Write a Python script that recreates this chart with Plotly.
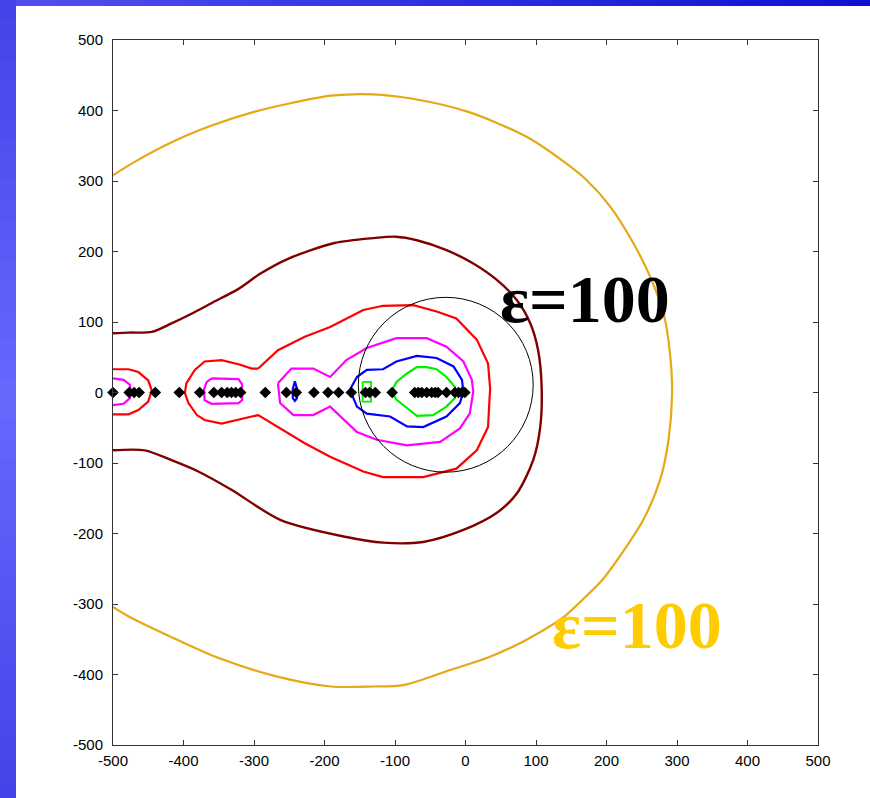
import plotly.graph_objects as go

# ---------------- data ----------------
orange_x = [-500, -473, -419, -359, -300, -245, -191, -131, -77, 4, 86, 140, 172, 205, 238,
            262, 281, 290, 293, 288, 276, 252, 222, 194, 168, 140, 86, 32, -23, -88, -131, -191,
            -267, -349, -419, -477, -500]
orange_y = [308, 325, 354, 379, 398, 411, 421, 423, 417, 398, 363, 327, 301, 264, 212,
            164, 112, 56, -1, -67, -124, -181, -228, -266, -292, -318, -351, -376, -394, -415, -417, -417,
            -403, -377, -346, -318, -304]

maroon_x = [-500, -478, -445, -417, -388, -360, -322, -292, -251, -186, -131, -99, -69, -27,
            11, 44, 73, 92, 103, 108, 106, 96, 73, 44, -3, -60, -117, -169, -262, -332,
            -379, -417, -455, -500]
maroon_y = [84, 85, 86, 98, 112, 127, 147, 168, 190, 212, 219, 221, 216, 202,
            183, 160, 131, 98, 60, 8, -49, -96, -143, -171, -195, -212, -213, -205, -181, -138,
            -112, -96, -82, -82]

red_left_x = [-500, -478, -464, -450, -445, -450, -464, -478, -500]
red_left_y = [33, 33, 29, 17, 3, -13, -25, -31, -31]

red_main_x = [-294, -266, -228, -192, -145, -117, -74, -41, -13, 16, 32, 35, 34, 32, 16,
              -13, -60, -117, -145, -192, -228, -275, -294, -303, -346, -370, -381, -393,
              -398, -396, -384, -370, -346, -322, -303, -294]
red_main_y = [34, 60, 79, 93, 117, 123, 124, 115, 105, 75, 41, 5, -10, -49, -82,
              -108, -120, -120, -112, -91, -72, -44, -32, -34, -44, -39, -32, -15,
              -1, 13, 32, 44, 46, 40, 34, 34]

mag_left_x = [-500, -485, -476, -475, -476, -485, -500]
mag_left_y = [20, 18, 11, 1, -8, -16, -18]

mag_mid_x = [-360, -322, -317, -317, -322, -360, -370, -371, -367, -360]
mag_mid_y = [20, 19, 12, -11, -15, -16, -11, 4, 15, 20]

mag_main_x = [-266, -247, -216, -192, -169, -140, -98, -55, -27, -3, 9, 11, 6, -8, -36,
              -83, -126, -154, -192, -216, -244, -263, -266]
mag_main_y = [13, 34, 34, 22, 46, 63, 77, 77, 65, 44, 18, 1, -30, -51, -70,
              -75, -67, -56, -20, -32, -32, -15, 13]

blue_main_x = [-164, -154, -140, -117, -98, -69, -41, -17, -5, -3, -8, -27, -60, -83,
               -107, -140, -154, -164]
blue_main_y = [4, 22, 32, 33, 44, 52, 49, 37, 18, 1, -15, -34, -49, -48,
               -34, -30, -20, 4]

blue_small_x = [-242, -239, -239, -242, -245, -245, -242]
blue_small_y = [16, 5, -8, -12, -8, 5, 16]

green_main_x = [-105, -98, -83, -69, -55, -41, -27, -15, -15, -27, -46, -69, -83, -98, -105]
green_main_y = [1, 15, 27, 36, 36, 33, 22, 8, -8, -20, -32, -33, -22, -10, 1]

green_small_x = [-146, -134, -134, -146, -146]
green_small_y = [15, 15, -13, -13, 15]

eig_x = [-500, -477, -470, -463, -440, -406, -377, -357, -346, -338, -332, -326, -319,
         -284, -254, -240, -215, -195, -180, -162, -142, -136, -128, -104, -72, -67, -62,
         -55, -48, -43, -39, -27, -15, -10, -5, -1]
eig_y = [0] * len(eig_x)

circle_center = (-28, 11)
circle_radius = 124

tick_vals = [-500, -400, -300, -200, -100, 0, 100, 200, 300, 400, 500]
tick_text = [str(v) for v in tick_vals]

label_text = "ε=100"
label_black_pos = (170, 133)
label_gold_pos = (243, -330)

# ---------------- figure ----------------
fig = go.Figure()

def add_line(xs, ys, color, width=2.2, smooth=False):
    line = dict(color=color, width=width)
    if smooth:
        line.update(shape="spline", smoothing=0.8)
    fig.add_trace(go.Scatter(x=xs, y=ys, mode="lines", line=line,
                             hoverinfo="skip", showlegend=False))

ORANGE = "#E6A814"
MAROON = "#800000"
RED = "#FF0000"
MAG = "#FF00FF"
BLUE = "#0000FF"
GREEN = "#00EE00"

add_line(orange_x, orange_y, ORANGE, smooth=True)
add_line(maroon_x, maroon_y, MAROON, 2.4, smooth=True)
add_line(red_left_x, red_left_y, RED)
add_line(red_main_x, red_main_y, RED)
add_line(mag_left_x, mag_left_y, MAG)
add_line(mag_mid_x, mag_mid_y, MAG)
add_line(mag_main_x, mag_main_y, MAG)
add_line(blue_main_x, blue_main_y, BLUE)
add_line(blue_small_x, blue_small_y, BLUE)
add_line(green_main_x, green_main_y, GREEN)
add_line(green_small_x, green_small_y, GREEN, 1.8)

fig.add_trace(go.Scatter(x=eig_x, y=eig_y, mode="markers",
                         marker=dict(symbol="diamond", size=9, color="black",
                                     line=dict(width=0)),
                         cliponaxis=False, hoverinfo="skip", showlegend=False))

cx, cy = circle_center
fig.add_shape(type="circle", xref="x", yref="y",
              x0=cx - circle_radius, x1=cx + circle_radius,
              y0=cy - circle_radius, y1=cy + circle_radius,
              line=dict(color="black", width=1))

fig.add_annotation(x=label_black_pos[0], y=label_black_pos[1], text=label_text,
                   showarrow=False, xanchor="center", yanchor="middle",
                   font=dict(family="Liberation Serif", size=68, color="black", weight="bold"))
fig.add_annotation(x=label_gold_pos[0], y=label_gold_pos[1], text=label_text,
                   showarrow=False, xanchor="center", yanchor="middle",
                   font=dict(family="Liberation Serif", size=68, color="#FFCC00", weight="bold"))

# blue slide frame (gradient approximated with overlapping bands), in paper coords
L, T, W, H = 113, 40, 705, 705
def px2x(p): return (p - L) / W
def py2y(p): return (T + H - p) / H

n = 40
for i in range(n):
    t = (i + 0.5) / n
    k = 1 - abs(t - 0.5) * 2
    r = int(68 + 36 * k); g = int(68 + 36 * k); b = int(232 + 23 * k)
    y0 = 798 * i / n
    y1 = 798 * (i + 1) / n + 2
    fig.add_shape(type="rect", xref="paper", yref="paper", layer="below",
                  x0=px2x(0), x1=px2x(16), y0=py2y(y1), y1=py2y(y0),
                  fillcolor=f"rgb({r},{g},{b})", line=dict(width=0))
for i in range(n):
    t = (i + 0.5) / n
    r = int(80 - 64 * t); g = int(80 - 64 * t); b = int(240 - 30 * t)
    x0 = 16 + (870 - 16) * i / n
    x1 = 16 + (870 - 16) * (i + 1) / n + 2
    fig.add_shape(type="rect", xref="paper", yref="paper", layer="below",
                  x0=px2x(x0), x1=px2x(x1), y0=py2y(6), y1=py2y(0),
                  fillcolor=f"rgb({r},{g},{b})", line=dict(width=0))

axis_common = dict(range=[-500, 500], tickmode="array", tickvals=tick_vals, ticktext=tick_text,
                   ticks="inside", ticklen=5, tickcolor="#333333", tickwidth=1,
                   showline=True, linecolor="#333333", linewidth=1, mirror="ticks",
                   showgrid=False, zeroline=False, fixedrange=True)

fig.update_layout(
    width=870, height=798,
    margin=dict(l=L, r=870 - L - W, t=T, b=798 - T - H),
    paper_bgcolor="white", plot_bgcolor="white",
    xaxis=dict(**axis_common, ticklabelstandoff=2,
               tickfont=dict(family="Liberation Sans Narrow, Arial", size=15, color="#000000")),
    yaxis=dict(**axis_common, ticklabelstandoff=6,
               tickfont=dict(family="Liberation Sans, Arial", size=15, color="#000000")),
    showlegend=False,
)

fig.write_html("out.html")
